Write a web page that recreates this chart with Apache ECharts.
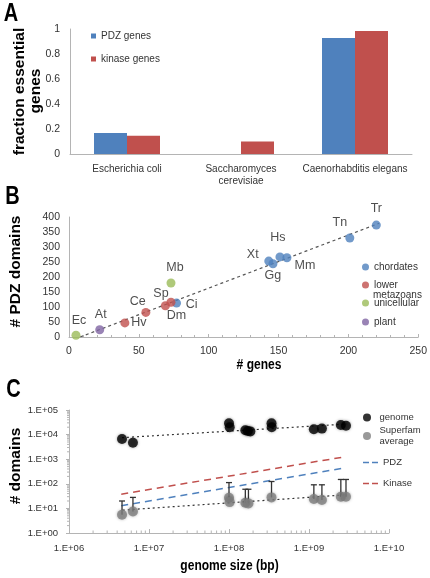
<!DOCTYPE html>
<html><head><meta charset="utf-8">
<script src="https://cdn.jsdelivr.net/npm/echarts@6/dist/echarts.min.js"></script>
<style>html,body{margin:0;padding:0;background:#fff}#c{width:430px;height:578px}</style>
</head><body><div id="c"></div>
<script>
// ---------- Panel A data ----------
const catsA = ['Escherichia coli', 'Saccharomyces\ncerevisiae', 'Caenorhabditis elegans'];
const pdzEssential = [0.168, null, 0.928];
const kinaseEssential = [0.146, 0.10, 0.984];

// ---------- Panel B data ----------
const chordNames = ['Ci', 'Xt', 'Gg', 'Hs', 'Mm', 'Tn', 'Tr'];
const chordGenes = [77, 143, 146, 151, 156, 201, 220];
const chordPdz = [113, 253, 244, 267, 264, 330, 373];
const lowerNames = ['Hv', 'Ce', 'Dm', 'Sp'];
const lowerGenes = [40, 55, 69, 73];
const lowerPdz = [47, 82, 104, 116];
const uniNames = ['Ec', 'Mb'];
const uniGenes = [5, 73];
const uniPdz = [6, 180];
const plantNames = ['At'];
const plantGenes = [22];
const plantPdz = [24];
const trendBGenes = [8, 222];
const trendBPdz = [0, 379];

// ---------- Panel C data ----------
const genomeSize = [4.6e6, 6.3e6, 1.0e8, 1.02e8, 1.6e8, 1.72e8, 1.85e8, 3.4e8, 3.42e8, 1.15e9, 1.45e9, 2.5e9, 2.9e9];
const genomeDomains = [6.6e3, 4.7e3, 2.9e4, 2.0e4, 1.5e4, 1.4e4, 1.35e4, 2.9e4, 2.0e4, 1.65e4, 1.75e4, 2.45e4, 2.3e4];
const sfSize = [4.6e6, 6.3e6, 1.0e8, 1.02e8, 1.6e8, 1.75e8, 3.4e8, 1.15e9, 1.45e9, 2.5e9, 2.9e9];
const sfMean = [5.5, 7.5, 27, 18, 17, 16, 28, 24, 22, 30, 30];
const sfErrTop = [20, 28, 112, null, 60, 60, 124, 91, 91, 150, 150];
const genomeTrendX = [4.6e6, 3.0e9];
const genomeTrendY = [7.5e3, 2.7e4];
const sfTrendX = [4.7e6, 3.0e9];
const sfTrendY = [8.5, 36];
const pdzTrendX = [4.5e6, 2.8e9];
const pdzTrendY = [12.8, 440];
const kinTrendX = [4.5e6, 2.8e9];
const kinTrendY = [38, 1250];
const cXTicks = [1e6, 1e7, 1e8, 1e9, 1e10];
const cYTicks = [1, 10, 100, 1e3, 1e4, 1e5];
const minorMultipliers = [2, 3, 4, 5, 6, 7, 8, 9];

// ---------- styles ----------
const FONT = '"Liberation Sans", Arial, sans-serif';
const AX = '#b4b4b4';
const TXT = '#333';
const BLUE = '#4F81BD', RED = '#C0504D', GREEN = '#9BBB59', PURPLE = '#8064A2';
const DASH_ICON = 'path://M0,0L6,0L6,1.6L0,1.6Z M9,0L15,0L15,1.6L9,1.6Z';
const labelOffsetB = {
  Ec: [3, -15], At: [1, -15], Hv: [14, 0], Ce: [-8, -11], Dm: [11, 10], Sp: [-10, -9],
  Ci: [15, 1], Mb: [4, -15], Xt: [-16, -7], Gg: [0, 12], Hs: [-2, -19], Mm: [18, 8],
  Tn: [-10, -15], Tr: [0, -17]
};
const pair = (xs, ys) => xs.map((x, i) => [x, ys[i]]);
const ptsB = (names, xs, ys) => names.map((n, i) => ({ name: n, value: [xs[i], ys[i]], label: { offset: labelOffsetB[n] } }));
const sciLabel = v => '1.E+' + String(Math.round(Math.log10(v))).padStart(2, '0');

const minorData = [];
cXTicks.slice(0, -1).forEach(d => minorMultipliers.forEach(m => minorData.push([d * m, cYTicks[0], 0])));
cYTicks.slice(0, -1).forEach(d => minorMultipliers.forEach(m => minorData.push([cXTicks[0], d * m, 1])));

const errData = sfSize.map((x, i) => [x, sfMean[i], sfErrTop[i]]).filter(d => d[2] != null);

function scatterB(name, color, names, xs, ys) {
  return {
    type: 'scatter', name, xAxisIndex: 1, yAxisIndex: 1, symbolSize: 9, z: 3,
    itemStyle: { color },
    data: ptsB(names, xs, ys),
    label: { show: true, position: 'inside', formatter: p => p.name, fontSize: 12.5, color: '#222', fontFamily: FONT }
  };
}
function textEl(text, x, y, size, opts) {
  return Object.assign({
    type: 'text', x, y,
    style: { text, fontSize: size, fontWeight: 'bold', fontFamily: FONT, fill: '#000',
      align: 'center', verticalAlign: 'middle', textAlign: 'center', textVerticalAlign: 'middle' }
  }, opts || {});
}
function legendAt(name, left, top, w, h, extra) {
  return Object.assign({
    data: [name], left, top, itemWidth: w, itemHeight: h, padding: 0, selectedMode: false,
    textStyle: { fontSize: 9.5, color: TXT, fontFamily: FONT, lineHeight: 11 }
  }, extra || {});
}

const chart = echarts.init(document.getElementById('c'), null, { renderer: 'canvas' });
chart.setOption({
  animation: false,
  backgroundColor: '#fff',
  textStyle: { fontFamily: FONT },
  grid: [
    { left: 70, top: 29, width: 342, height: 125 },
    { left: 69, top: 217, width: 350, height: 120 },
    { left: 69, top: 410, width: 320, height: 123 }
  ],
  xAxis: [
    { type: 'category', gridIndex: 0, data: catsA,
      axisLine: { lineStyle: { color: AX } }, axisTick: { show: false },
      axisLabel: { fontSize: 10, color: TXT, margin: 9, lineHeight: 12, interval: 0 } },
    { type: 'value', gridIndex: 1, min: 0, max: 250, interval: 50,
      axisLine: { show: true, lineStyle: { color: AX } },
      axisTick: { show: true, inside: true, length: 3, lineStyle: { color: AX } },
      minorTick: { show: true, splitNumber: 5, length: 2, lineStyle: { color: AX } },
      splitLine: { show: false },
      axisLabel: { fontSize: 10.5, color: TXT, margin: 9 } },
    { type: 'log', gridIndex: 2, logBase: 10, min: cXTicks[0], max: cXTicks[cXTicks.length - 1],
      axisLine: { show: true, lineStyle: { color: AX } },
      axisTick: { show: true, inside: true, length: 4, lineStyle: { color: AX } },
      splitLine: { show: false },
      axisLabel: { fontSize: 9.5, color: TXT, margin: 10, formatter: sciLabel } }
  ],
  yAxis: [
    { type: 'value', gridIndex: 0, min: 0, max: 1, interval: 0.2,
      axisLine: { show: true, lineStyle: { color: AX } }, axisTick: { show: false },
      splitLine: { show: false },
      axisLabel: { fontSize: 10.5, color: TXT, margin: 10, formatter: v => String(+v.toFixed(1)) } },
    { type: 'value', gridIndex: 1, min: 0, max: 400, interval: 50,
      axisLine: { show: true, lineStyle: { color: AX } }, axisTick: { show: false },
      splitLine: { show: false },
      axisLabel: { fontSize: 10.5, color: TXT, margin: 9 } },
    { type: 'log', gridIndex: 2, logBase: 10, min: cYTicks[0], max: cYTicks[cYTicks.length - 1],
      axisLine: { show: true, lineStyle: { color: AX } },
      axisTick: { show: true, length: 3, lineStyle: { color: AX } },
      splitLine: { show: false },
      axisLabel: { fontSize: 9.5, color: TXT, margin: 11, formatter: sciLabel } }
  ],
  legend: [
    legendAt('PDZ genes', 91, 30, 5, 5, { icon: 'rect', textStyle: { fontSize: 10, color: TXT, fontFamily: FONT, lineHeight: 12 } }),
    legendAt('kinase genes', 91, 53, 5, 5, { icon: 'rect', textStyle: { fontSize: 10, color: TXT, fontFamily: FONT, lineHeight: 12 } }),
    legendAt('chordates', 362, 261, 7, 7, { textStyle: { fontSize: 10, color: TXT, fontFamily: FONT, lineHeight: 12 } }),
    legendAt('lower metazoans', 362, 279, 7, 7, { formatter: () => 'lower', textStyle: { fontSize: 10, color: TXT, fontFamily: FONT, lineHeight: 12 } }),
    legendAt('unicellular', 362, 297, 7, 7, { textStyle: { fontSize: 10, color: TXT, fontFamily: FONT, lineHeight: 12 } }),
    legendAt('plant', 362, 316, 7, 7, { textStyle: { fontSize: 10, color: TXT, fontFamily: FONT, lineHeight: 12 } }),
    legendAt('genome', 363, 412, 15, 8, { icon: 'circle' }),
    legendAt('Superfam\naverage', 363, 425, 15, 8, { icon: 'circle' }),
    legendAt('PDZ', 363, 457, 15, 10, { icon: DASH_ICON, itemHeight: 1.6, itemStyle: { color: BLUE } }),
    legendAt('Kinase', 363, 478, 15, 10, { icon: DASH_ICON, itemHeight: 1.6, itemStyle: { color: RED } })
  ],
  graphic: [
    textEl('A', 11, 14, 25, { scaleX: 0.8 }),
    textEl('B', 12.5, 197, 25, { scaleX: 0.8 }),
    textEl('C', 13.5, 390, 25, { scaleX: 0.8 }),
    textEl('fraction essential', 20, 91.5, 15.5, { rotation: Math.PI / 2 }),
    textEl('genes', 36, 91, 15.5, { rotation: Math.PI / 2 }),
    textEl('# PDZ domains', 16, 271.5, 15.5, { rotation: Math.PI / 2 }),
    textEl('# domains', 15.5, 466, 15.5, { rotation: Math.PI / 2 }),
    textEl('# genes', 259, 365, 14.5, { scaleX: 0.83 }),
    textEl('genome size (bp)', 229.5, 566, 14.5, { scaleX: 0.83 }),
    { type: 'text', x: 373, y: 295,
      style: { text: 'metazoans', fontSize: 10, fontFamily: FONT, fill: TXT,
        align: 'left', verticalAlign: 'middle', textAlign: 'left', textVerticalAlign: 'middle' } }
  ],
  series: [
    // Panel A
    { type: 'bar', name: 'PDZ genes', xAxisIndex: 0, yAxisIndex: 0, data: pdzEssential,
      barWidth: 33, barGap: '0%', itemStyle: { color: BLUE } },
    { type: 'bar', name: 'kinase genes', xAxisIndex: 0, yAxisIndex: 0, data: kinaseEssential,
      barWidth: 33, barGap: '0%', itemStyle: { color: RED } },
    // Panel B
    { type: 'line', name: 'trendB', xAxisIndex: 1, yAxisIndex: 1, data: pair(trendBGenes, trendBPdz),
      showSymbol: false, symbol: 'none', silent: true, z: 1,
      lineStyle: { color: '#555', width: 1.2, type: [3, 3] } },
    scatterB('chordates', BLUE, chordNames, chordGenes, chordPdz),
    scatterB('lower metazoans', RED, lowerNames, lowerGenes, lowerPdz),
    scatterB('unicellular', GREEN, uniNames, uniGenes, uniPdz),
    scatterB('plant', PURPLE, plantNames, plantGenes, plantPdz),
    // Panel C
    { type: 'custom', name: 'minorTicks', xAxisIndex: 2, yAxisIndex: 2, data: minorData, silent: true, clip: false,
      encode: { x: 0, y: 1 },
      renderItem: (params, api) => {
        const kind = api.value(2);
        if (kind === 0) {
          const p = api.coord([api.value(0), cYTicks[0]]);
          return { type: 'line', shape: { x1: p[0], y1: p[1], x2: p[0], y2: p[1] - 2.5 }, style: { stroke: AX, lineWidth: 1 } };
        }
        const p = api.coord([cXTicks[0], api.value(1)]);
        return { type: 'line', shape: { x1: p[0] - 2, y1: p[1], x2: p[0], y2: p[1] }, style: { stroke: AX, lineWidth: 1 } };
      } },
    { type: 'line', name: 'Kinase', xAxisIndex: 2, yAxisIndex: 2, data: pair(kinTrendX, kinTrendY),
      symbol: 'none', silent: true, z: 1, itemStyle: { color: RED },
      lineStyle: { color: RED, width: 1.5, type: [7, 5] } },
    { type: 'line', name: 'PDZ', xAxisIndex: 2, yAxisIndex: 2, data: pair(pdzTrendX, pdzTrendY),
      symbol: 'none', silent: true, z: 1, itemStyle: { color: BLUE },
      lineStyle: { color: BLUE, width: 1.5, type: [7, 5] } },
    { type: 'line', name: 'genomeTrend', xAxisIndex: 2, yAxisIndex: 2, data: pair(genomeTrendX, genomeTrendY),
      symbol: 'none', silent: true, z: 1, lineStyle: { color: '#333', width: 1.2, type: [2, 3] } },
    { type: 'line', name: 'sfTrend', xAxisIndex: 2, yAxisIndex: 2, data: pair(sfTrendX, sfTrendY),
      symbol: 'none', silent: true, z: 1, lineStyle: { color: '#333', width: 1.2, type: [2, 3] } },
    { type: 'custom', name: 'errBars', xAxisIndex: 2, yAxisIndex: 2, data: errData, silent: true, z: 2,
      encode: { x: 0, y: [1, 2] },
      renderItem: (params, api) => {
        const lo = api.coord([api.value(0), api.value(1)]);
        const hi = api.coord([api.value(0), api.value(2)]);
        const st = { stroke: '#333', lineWidth: 1.3 };
        return { type: 'group', children: [
          { type: 'line', shape: { x1: lo[0], y1: lo[1], x2: hi[0], y2: hi[1] }, style: st },
          { type: 'line', shape: { x1: hi[0] - 3, y1: hi[1], x2: hi[0] + 3, y2: hi[1] }, style: st }
        ] };
      } },
    { type: 'scatter', name: 'genome', xAxisIndex: 2, yAxisIndex: 2, data: pair(genomeSize, genomeDomains),
      symbolSize: 10, z: 3, itemStyle: { color: '#000', shadowBlur: 3, shadowColor: 'rgba(0,0,0,0.45)' } },
    { type: 'scatter', name: 'Superfam\naverage', xAxisIndex: 2, yAxisIndex: 2, data: pair(sfSize, sfMean),
      symbolSize: 10, z: 3, itemStyle: { color: '#808080', shadowBlur: 3, shadowColor: 'rgba(0,0,0,0.35)' } }
  ]
});
</script></body></html>
